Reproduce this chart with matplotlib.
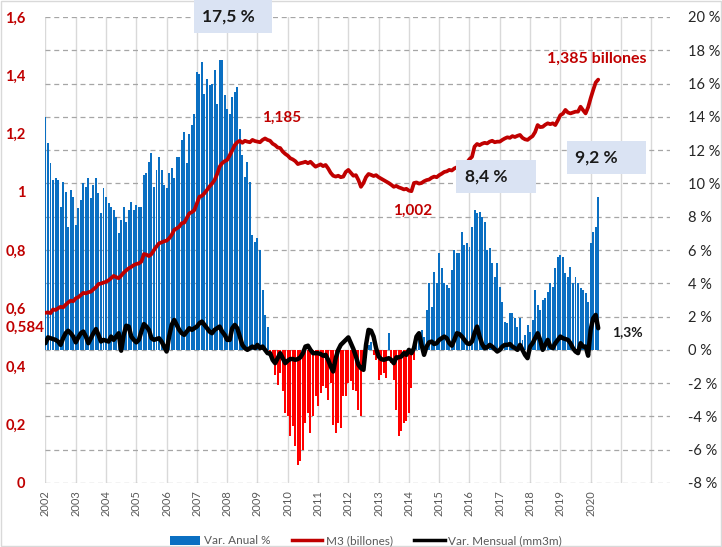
import matplotlib
matplotlib.use('Agg')
import matplotlib.pyplot as plt
import numpy as np
from matplotlib.lines import Line2D
from matplotlib.patches import Patch, Rectangle

plt.rcParams['font.family'] = ['Lato', 'DejaVu Sans']

# ---------------- data (monthly, Jan 2002 - Apr 2020) ----------------
start_year = 2002

var_anual = [
    14.0, 12.4, 11.2, 10.2, 10.3, 10.2, 8.6, 10.1, 9.5, 7.4, 9.6, 9.2,      # 2002
    7.5, 8.5, 9.0, 10.0, 9.8, 10.3, 9.1, 9.9, 10.3, 9.4, 8.2, 9.7,          # 2003
    9.2, 8.8, 8.6, 8.4, 8.0, 7.0, 7.8, 8.6, 7.7, 8.4, 8.9, 8.4,             # 2004
    8.7, 8.6, 8.6, 10.5, 10.6, 11.3, 11.8, 9.8, 10.8, 11.6, 10.8, 9.9,      # 2005
    9.7, 10.6, 10.9, 10.3, 11.6, 11.6, 12.6, 13.1, 11.2, 13.0, 13.5, 14.2,  # 2006
    16.7, 16.6, 17.3, 15.4, 16.3, 15.9, 16.0, 16.8, 14.8, 17.4, 17.4, 15.3, # 2007
    14.5, 14.2, 15.2, 15.5, 15.8, 13.3, 11.7, 10.4, 11.3, 10.1, 6.9, 6.5,   # 2008
    6.7, 6.0, 3.6, 2.1, 1.4, -0.2, -0.8, -1.5, -2.1, -1.4, -2.5, -3.8,      # 2009
    -4.0, -5.2, -4.6, -5.8, -6.9, -6.7, -6.0, -4.4, -3.8, -5.0, -4.0, -2.8, # 2010
    -3.4, -2.6, -2.2, -2.3, -3.0, -2.0, -4.5, -5.0, -4.4, -4.7, -2.8, -2.8, # 2011
    -2.0, -1.9, -2.4, -2.5, -3.6, -4.0, -1.1, -0.5, 0.3, 0.5, -0.3, -0.6,   # 2012
    -1.8, -1.5, -1.4, -1.7, 1.0, -0.8, -1.8, -3.6, -5.2, -4.9, -4.4, -4.3,  # 2013
    -3.8, -2.3, -0.6, 0.3, 1.1, 1.2, 0.8, 2.4, 4.0, 2.6, 4.7, 4.0,          # 2014
    5.8, 4.9, 4.0, 3.9, 3.7, 4.8, 6.0, 5.8, 5.8, 7.1, 6.3, 6.4,             # 2015
    6.2, 7.4, 8.4, 8.2, 8.3, 8.0, 7.7, 6.0, 6.1, 5.2, 4.4, 5.2,             # 2016
    3.8, 2.9, 1.7, 1.6, 2.2, 2.2, 1.9, 1.4, 1.9, 0.6, 0.9, 1.5,             # 2017
    1.1, 1.8, 3.6, 2.7, 2.4, 3.0, 3.1, 3.5, 4.0, 3.8, 4.9, 5.6,             # 2018
    5.7, 5.6, 4.6, 4.4, 5.0, 4.0, 4.4, 4.0, 3.7, 3.6, 3.4, 2.9,             # 2019
    6.4, 7.1, 7.4, 9.2,                                                      # 2020
]

m3_billones = [
    0.584, 0.586, 0.583, 0.596, 0.594, 0.600, 0.605, 0.603, 0.612, 0.620, 0.626, 0.624,
    0.634, 0.638, 0.645, 0.653, 0.651, 0.655, 0.657, 0.665, 0.672, 0.683, 0.685, 0.688,
    0.691, 0.696, 0.703, 0.711, 0.707, 0.703, 0.712, 0.722, 0.730, 0.737, 0.742, 0.748,
    0.752, 0.754, 0.760, 0.786, 0.784, 0.779, 0.786, 0.800, 0.812, 0.823, 0.826, 0.830,
    0.832, 0.840, 0.852, 0.869, 0.874, 0.880, 0.892, 0.894, 0.910, 0.926, 0.930, 0.937,
    0.960, 0.983, 0.986, 0.995, 1.006, 1.018, 1.028, 1.040, 1.060, 1.086, 1.098, 1.105,
    1.109, 1.125, 1.142, 1.160, 1.170, 1.175, 1.168, 1.175, 1.172, 1.170, 1.178, 1.174,
    1.172, 1.170, 1.178, 1.183, 1.178, 1.175, 1.165, 1.160, 1.152, 1.150, 1.138, 1.130,
    1.124, 1.115, 1.111, 1.105, 1.095, 1.098, 1.100, 1.103, 1.098, 1.103, 1.094, 1.086,
    1.090, 1.094, 1.088, 1.092, 1.080, 1.065, 1.055, 1.052, 1.055, 1.050, 1.052, 1.068,
    1.075, 1.065, 1.055, 1.057, 1.040, 1.017, 1.030, 1.050, 1.061, 1.058, 1.054, 1.057,
    1.050, 1.045, 1.040, 1.035, 1.030, 1.024, 1.017, 1.020, 1.015, 1.012, 1.008, 1.010,
    1.004, 1.002, 1.030, 1.032, 1.028, 1.030, 1.036, 1.040, 1.042, 1.048, 1.052, 1.050,
    1.057, 1.062, 1.068, 1.070, 1.075, 1.073, 1.080, 1.084, 1.090, 1.095, 1.098, 1.100,
    1.112, 1.120, 1.155, 1.164, 1.160, 1.165, 1.168, 1.166, 1.172, 1.175, 1.170, 1.172,
    1.172, 1.178, 1.183, 1.187, 1.185, 1.191, 1.188, 1.192, 1.195, 1.185, 1.180, 1.178,
    1.185, 1.191, 1.205, 1.229, 1.222, 1.223, 1.230, 1.235, 1.232, 1.235, 1.229, 1.245,
    1.263, 1.268, 1.281, 1.272, 1.269, 1.272, 1.275, 1.275, 1.292, 1.280, 1.269, 1.290,
    1.321, 1.349, 1.375, 1.385,
]

var_mensual = [
    0.4, 0.75, 0.7, 0.65, 0.6, 0.5, 0.3, 0.7, 1.0, 1.15, 1.0, 0.8,
    0.45, 0.75, 1.0, 1.1, 0.8, 0.4, 0.7, 1.0, 1.25, 0.9, 0.5, 0.6,
    0.55, 0.5, 0.8, 0.6, 0.8, 1.0, -0.05, 0.9, 1.45, 1.4, 0.8, 0.6,
    0.45, 0.6, 1.1, 1.55, 1.4, 1.2, 0.7, 0.6, 0.65, 0.7, 0.5, 0.2,
    -0.1, 0.8, 1.5, 1.8, 1.5, 1.2, 1.0, 0.9, 1.1, 1.3, 1.2, 1.3,
    1.4, 1.6, 1.7, 1.5, 1.3, 1.1, 1.0, 1.2, 1.3, 1.4, 1.1, 0.9,
    0.6, 0.6, 1.3, 1.5, 1.3, 0.8, 0.3, 0.1, 0.0, 0.1, 0.2, 0.1,
    0.3, 0.1, 0.2, 0.0, -0.2, -0.2, -0.6, -0.8, -0.5, -0.2, -0.5, -0.8,
    -0.65, -0.55, -0.55, -0.6, -0.55, -0.45, -0.2, 0.2, 0.25, 0.0, -0.2, -0.2,
    -0.2, -0.25, -0.35, -0.3, -0.6, -1.0, -1.3, -0.5, 0.0, 0.3, 0.45, 0.6,
    0.75, 0.4, 0.05, -0.4, -0.9, -1.1, -1.2, 0.3, 1.2, 1.15, 0.8, 0.1,
    -0.4, -0.55, -0.6, -0.55, -0.5, -0.6, -0.8, -0.45, -0.45, -0.4, -0.2, -0.3,
    0.0, -0.2, 0.1, 0.8, 1.0, 0.3, -0.3, 0.2, 0.45, 0.5, 0.35, 0.4,
    0.6, 0.7, 0.8, 0.7, 0.4, 0.25, 0.6, 1.0, 0.95, 0.8, 0.6, 0.4,
    0.35, 0.5, 1.0, 1.4, 0.8, 0.35, 0.1, 0.15, 0.3, 0.2, 0.05, -0.1,
    0.0, 0.2, 0.3, 0.3, 0.35, 0.2, 0.1, 0.0, 0.3, 0.0, -0.3, -0.5,
    0.2, 0.4, 0.7, 1.0, 0.6, 0.0, 0.3, 0.6, 0.2, 0.1, 0.4, 0.6,
    0.8, 0.7, 0.65, 0.6, 0.4, 0.1, -0.1, -0.2, 0.4, 0.2, 0.2, -0.35,
    1.2, 1.9, 2.1, 1.3,
]

year_ticks = list(range(2002, 2023))
year_labels = [str(y) if y <= 2020 else '' for y in year_ticks]
left_ticks = [0, 0.2, 0.4, 0.6, 0.8, 1.0, 1.2, 1.4, 1.6]
left_labels = ['0', '0,2', '0,4', '0,6', '0,8', '1', '1,2', '1,4', '1,6']
right_ticks = list(range(-8, 21, 2))
right_labels = [f'{t} %' for t in right_ticks]

legend_labels = ['Var. Anual %', 'M3 (billones)', 'Var. Mensual (mm3m)']

# ---------------- colours ----------------
BLUE = '#0A6FC2'
RED_BAR = '#FF0000'
DARK_RED = '#C00000'
BOX = '#DAE3F3'

W, H = 722, 547
fig = plt.figure(figsize=(W / 100, H / 100), dpi=100)

def fx(px):
    return px / W

def fy(py):
    return 1 - py / H

ax = fig.add_axes([fx(45), fy(483), fx(670) - fx(45), fy(17) - fy(483)])
x = start_year + np.arange(len(var_anual)) / 12.0

# grid
for t in right_ticks:
    ax.axhline(t, color='#A6A6A6', lw=0.9, ls=(0, (4, 3)), zorder=1)
for yv in year_ticks:
    ax.axvline(yv, color='#D9D9D9', lw=1.0, zorder=0.5)

bar_colors = [BLUE if v >= 0 else RED_BAR for v in var_anual]
ax.bar(x, var_anual, width=0.78 / 12, color=bar_colors, linewidth=0, zorder=2)
ax.plot(x, var_mensual, color='black', lw=3.2, zorder=4, solid_joinstyle='round',
        solid_capstyle='round')

ax.set_xlim(2001.985, 2022.62)
ax.set_ylim(-8, 20)
for s in ax.spines.values():
    s.set_visible(False)

ax.set_xticks(year_ticks)
ax.set_xticklabels(year_labels, rotation=90, fontsize=8, color='#595959')
ax.tick_params(axis='x', length=0, pad=5)

ax2 = ax.twinx()
ax2.plot(x, m3_billones, color=DARK_RED, lw=2.7, zorder=3, solid_joinstyle='round',
         solid_capstyle='round')
ax2.set_ylim(0, 1.6)
ax2.set_xlim(ax.get_xlim())
for s in ax2.spines.values():
    s.set_visible(False)

# percent axis on the right
ax.yaxis.set_ticks_position('right')
ax.set_yticks(right_ticks)
ax.set_yticklabels(right_labels, fontsize=10.5, color='#262626')
ax.tick_params(axis='y', length=0, pad=13, left=False, right=True,
               labelleft=False, labelright=True)

# M3 axis on the left
ax2.yaxis.set_ticks_position('left')
ax2.yaxis.set_label_position('left')
ax2.set_yticks(left_ticks)
ax2.set_yticklabels(left_labels, fontsize=10.5, color=DARK_RED, fontweight='bold')
ax2.tick_params(axis='y', length=0, pad=14, left=True, right=False,
                labelleft=True, labelright=False)

# ---------------- annotations ----------------
def box(x0, y0, x1, y1):
    fig.patches.append(Rectangle((fx(x0), fy(y1)), fx(x1) - fx(x0), fy(y0) - fy(y1),
                                 transform=fig.transFigure, facecolor=BOX,
                                 edgecolor='none', zorder=5))

box(194, 0, 272, 33)
box(456, 160, 536, 193)
box(567, 141, 646, 174)

fig.text(fx(228), fy(17), '17,5 %', fontsize=12.5, fontweight='bold', color='#1a1a1a',
         ha='center', va='center', zorder=6)
fig.text(fx(486), fy(177), '8,4 %', fontsize=12.5, fontweight='bold', color='#1a1a1a',
         ha='center', va='center', zorder=6)
fig.text(fx(596), fy(158), '9,2 %', fontsize=12.5, fontweight='bold', color='#1a1a1a',
         ha='center', va='center', zorder=6)

fig.text(fx(282), fy(118), '1,185', fontsize=11, fontweight='bold', color=DARK_RED,
         ha='center', va='center', zorder=6)
fig.text(fx(413), fy(211), '1,002', fontsize=11, fontweight='bold', color=DARK_RED,
         ha='center', va='center', zorder=6)
fig.text(fx(597), fy(59), '1,385 billones', fontsize=11.5, fontweight='bold',
         color=DARK_RED, ha='center', va='center', zorder=6)
fig.text(fx(25), fy(328), '0,584', fontsize=11, fontweight='bold', color=DARK_RED,
         ha='center', va='center', zorder=6)
fig.text(fx(612), fy(332), '1,3%', fontsize=10, fontweight='bold', color='#1a1a1a',
         ha='left', va='center', zorder=6)

# ---------------- legend ----------------
handles = [Patch(facecolor=BLUE, edgecolor='none'),
           Line2D([0], [0], color=DARK_RED, lw=2.5),
           Line2D([0], [0], color='black', lw=2.5)]
leg = fig.legend(handles, legend_labels, loc='center', bbox_to_anchor=(fx(366), fy(541)),
                 ncol=3, frameon=False, fontsize=8.5, handlelength=2.6, handleheight=0.8,
                 handletextpad=0.3, columnspacing=1.8)
for t in leg.get_texts():
    t.set_color('#595959')

fig.patches.append(Rectangle((0.002, 0.002), 0.996, 0.996, transform=fig.transFigure,
                             fill=False, edgecolor='#D9D9D9', lw=1))

fig.savefig('out.png', dpi=100, facecolor='white')
